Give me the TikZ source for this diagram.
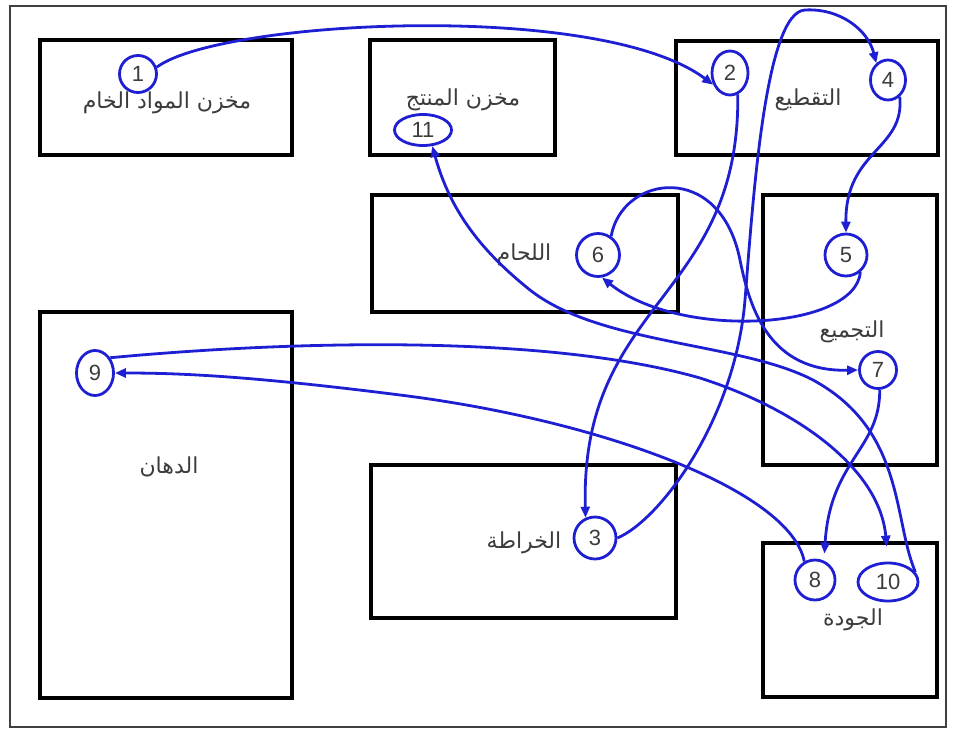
\documentclass[tikz,border=0pt]{standalone}
\usepackage{fontspec}
\setmainfont{Liberation Sans}
\newfontfamily\arabicfont[Script=Arabic]{DejaVu Sans}
\TeXXeTstate=1
\usetikzlibrary{arrows.meta,shapes.geometric}
\definecolor{route}{RGB}{30,30,210}
\definecolor{ink}{RGB}{60,60,60}
\newcommand{\artxt}[1]{{\arabicfont\beginR #1\endR}}
\tikzset{
  dept/.style={draw=black, line width=3.4pt, inner sep=0pt},
  stage/.style={circle, draw=route, line width=2.8pt, minimum size=40pt, inner sep=0pt,
                font=\fontsize{22}{22}\selectfont, text=ink},
  oval/.style={ellipse, draw=route, line width=2.8pt, inner sep=0pt,
               font=\fontsize{22}{22}\selectfont, text=ink},
  lbl/.style={font=\fontsize{22}{22}\selectfont, text=ink, inner sep=0pt},
  flow/.style={-{Triangle[length=11pt,width=9pt]}, route, line width=2.8pt},
}

\begin{document}
\begin{tikzpicture}[x=1pt, y=-1pt]
  \useasboundingbox (0,0) rectangle (955,731);
  \node[draw=black!75, line width=1.8pt, minimum width=936pt, minimum height=721pt, inner sep=0pt] (frame) at (478,366.5) {};

  % departments
  \node[dept, minimum width=252pt, minimum height=115pt] (raw)   at (166,97.5) {};
  \node[dept, minimum width=185pt, minimum height=115pt] (store) at (462.5,97.5) {};
  \node[dept, minimum width=262pt, minimum height=114pt] (cut)   at (807,98) {};
  \node[dept, minimum width=306pt, minimum height=117pt] (weld)  at (525,253.5) {};
  \node[dept, minimum width=174pt, minimum height=270pt] (asm)   at (850,330) {};
  \node[dept, minimum width=252pt, minimum height=386pt] (paint) at (166,505) {};
  \node[dept, minimum width=305pt, minimum height=153pt] (lathe) at (523.5,541.5) {};
  \node[dept, minimum width=174pt, minimum height=154pt] (qual)  at (850,620) {};

  \node[lbl] (rawname)   at (167,103) {\artxt{مخزن المواد الخام}};
  \node[lbl] (storename) at (463,100) {\artxt{مخزن المنتج}};
  \node[lbl] (cutname)   at (808,100) {\artxt{التقطيع}};
  \node[lbl] (weldname)  at (524,255) {\artxt{اللحام}};
  \node[lbl] (asmname)   at (852,332) {\artxt{التجميع}};
  \node[lbl] (paintname) at (169,467) {\artxt{الدهان}};
  \node[lbl] (lathename) at (524,543) {\artxt{الخراطة}};
  \node[lbl] (qualname)  at (853,620) {\artxt{الجودة}};

  % stages
  \node[stage, minimum size=37pt] (s1) at (138,74) {1};
  \node[oval, minimum width=36pt, minimum height=44pt] (s2) at (730,73) {2};
  \node[stage, minimum size=42pt] (s3) at (595,538) {3};
  \node[oval, minimum width=35pt, minimum height=40pt] (s4) at (888,80) {4};
  \node[stage, minimum size=42pt] (s5) at (846,255) {5};
  \node[stage, minimum size=43pt] (s6) at (598,255) {6};
  \node[stage, minimum size=37pt] (s7) at (878,370) {7};
  \node[stage] (s8) at (815,580) {8};
  \node[oval, minimum width=37pt, minimum height=45pt] (s9) at (95,373) {9};
  \node[oval, minimum width=60pt, minimum height=38pt] (s10) at (888,582) {10};
  \node[oval, minimum width=57pt, minimum height=31pt] (s11) at (423,130) {11};

  \draw[flow] (s1.20) .. controls (220,20) and (600,0) .. (s2.215);
  \draw[flow] (s2.-70) .. controls (740,300) and (580,300) .. (s3.115);
  \draw[flow] (s3.0) .. controls (660,520) and (735,420) .. (745,300)
    .. controls (753,200) and (765,12) .. (805,10)
    .. controls (840,8) and (868,30) .. (s4.125);
  \draw[flow] (s4.-55) .. controls (905,150) and (845,150) .. (s5.90);
  \draw[flow] (s5.-50) .. controls (855,330) and (680,340) .. (s6.-80);
  \draw[flow] (s6.55) .. controls (622,175) and (720,160) .. (740,260)
    .. controls (750,310) and (770,372) .. (s7.180);
  \draw[flow, shorten >=7pt] (s7.-85) .. controls (880,450) and (830,460) .. (s8.65);
  \draw[flow] (s8.120) .. controls (790,490) and (600,420) .. (400,395)
    .. controls (250,376) and (180,373) .. (s9.0);
  \draw[flow, shorten >=15pt] (s9.45) .. controls (300,340) and (550,335) .. (700,378)
    .. controls (800,410) and (880,470) .. (s10.north);
  \draw[flow] (s10.20) .. controls (893,520) and (905,430) .. (813,380)
    .. controls (740,342) and (600,345) .. (530,290)
    .. controls (480,250) and (450,210) .. (s11.-60);
\end{tikzpicture}
\end{document}
